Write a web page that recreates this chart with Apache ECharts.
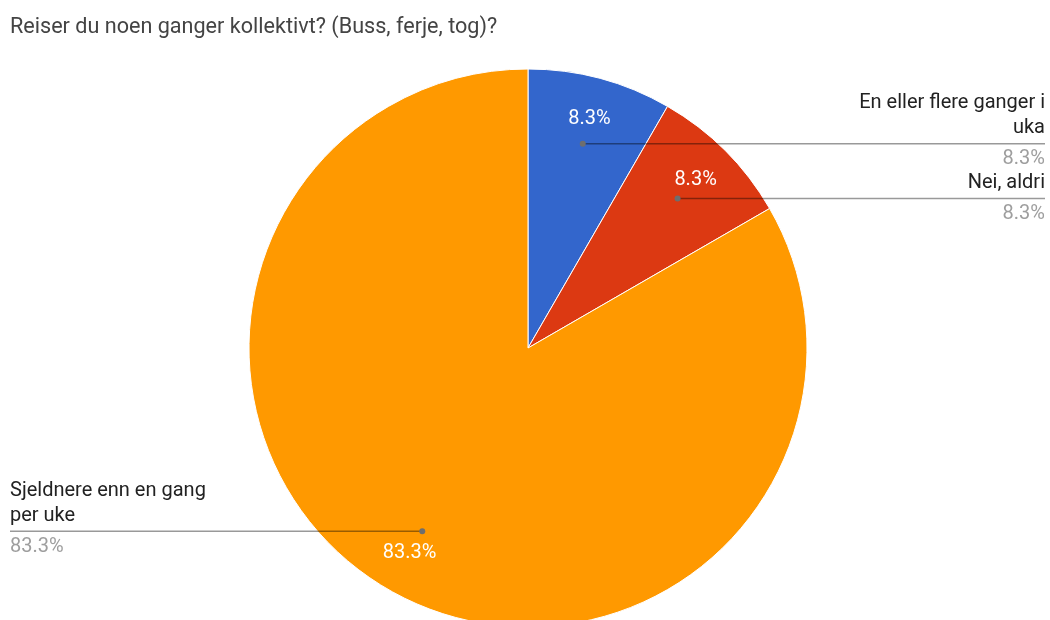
<!DOCTYPE html>
<html>
<head>
<meta charset="utf-8">
<title>Reiser du noen ganger kollektivt?</title>
<script src="https://cdn.jsdelivr.net/npm/echarts@6/dist/echarts.min.js"></script>
<style>
  html, body { margin: 0; padding: 0; background: #ffffff; }
  #chart { width: 1050px; height: 620px; }
</style>
</head>
<body>
<div id="chart"></div>
<script>
// Survey answers and how many respondents gave each one
const chartTitle = 'Reiser du noen ganger kollektivt? (Buss, ferje, tog)?';
const categories = ['En eller flere ganger i uka', 'Nei, aldri', 'Sjeldnere enn en gang per uke'];
const counts = [1, 1, 10];
const sliceColors = ['#3366cc', '#dc3912', '#ff9900'];

const FONT = 'Roboto, "Noto Sans", Arial, sans-serif';
const LABEL_SIZE = 20;
const CENTER = [528, 348];
const RADIUS = 279;
const total = counts.reduce((a, b) => a + b, 0);
const pctText = v => (v / total * 100).toFixed(1) + '%';

// Word-wrap a category name so each line stays within maxWidth pixels
const measureCtx = document.createElement('canvas').getContext('2d');
measureCtx.font = LABEL_SIZE + 'px ' + FONT;
function wrapName(text, maxWidth) {
  const words = text.split(' ');
  const lines = [];
  let line = '';
  words.forEach(w => {
    const test = line ? line + ' ' + w : w;
    if (line && measureCtx.measureText(test).width > maxWidth) {
      lines.push(line);
      line = w;
    } else {
      line = test;
    }
  });
  if (line) lines.push(line);
  return lines.join('\n');
}

const pieData = categories.map((name, i) => ({ name: name, value: counts[i] }));
const clearData = categories.map((name, i) => ({
  name: name, value: counts[i], itemStyle: { color: 'rgba(0,0,0,0)', borderWidth: 0 }
}));

const chart = echarts.init(document.getElementById('chart'), null, { renderer: 'canvas' });

// Point where each leader line starts: the centre of the dot label of series 2
function anchorOf(idx) {
  const layout = chart.getModel().getSeriesByIndex(2).getData().getItemLayout(idx);
  const mid = (layout.startAngle + layout.endAngle) / 2;
  const rr = (layout.r + layout.r0) / 2 + 3;
  return { x: layout.cx + rr * Math.cos(mid), y: layout.cy + rr * Math.sin(mid), right: Math.cos(mid) >= 0 };
}

const PAD_L = 10, PAD_R = 1045;

const common = {
  type: 'pie',
  center: CENTER,
  startAngle: 90,
  clockwise: true,
  silent: true,
  animation: false,
  avoidLabelOverlap: false
};

chart.setOption({
  backgroundColor: '#ffffff',
  title: {
    text: chartTitle,
    left: 5,
    top: 12,
    textStyle: { fontFamily: FONT, fontSize: 21.6, fontWeight: 'normal', color: '#444444' }
  },
  color: sliceColors,
  series: [
    // filled slices
    Object.assign({}, common, {
      z: 2,
      radius: [0, RADIUS],
      data: pieData,
      itemStyle: { borderColor: '#ffffff', borderWidth: 1 },
      label: { show: false },
      labelLine: { show: false }
    }),
    // category names with leader lines
    Object.assign({}, common, {
      z: 4,
      radius: [0, RADIUS],
      data: clearData,
      label: {
        show: true,
        position: 'outside',
        formatter: p => wrapName(p.name, 205),
        color: '#222222',
        fontFamily: FONT,
        fontSize: LABEL_SIZE,
        lineHeight: 25
      },
      labelLine: { show: true, lineStyle: { color: 'rgba(0,0,0,0.4)', width: 1.5 } },
      labelLayout: function (p) {
        const a = anchorOf(p.dataIndex);
        const endX = a.right ? PAD_R : PAD_L;
        return {
          x: endX,
          y: a.y - 3,
          align: a.right ? 'right' : 'left',
          verticalAlign: 'bottom',
          labelLinePoints: [[a.x, a.y], [(a.x + endX) / 2, a.y], [endX, a.y]]
        };
      }
    }),
    // leader line dots
    Object.assign({}, common, {
      z: 5,
      radius: [138, RADIUS],
      data: clearData,
      label: {
        show: true,
        position: 'inside',
        formatter: '{d|}',
        rich: { d: { width: 6, height: 6, borderRadius: 3, backgroundColor: '#6e6e6e' } }
      },
      labelLine: { show: false }
    }),
    // percentages inside the slices
    Object.assign({}, common, {
      z: 5,
      radius: [189, RADIUS],
      data: clearData,
      label: {
        show: true,
        position: 'inside',
        formatter: p => pctText(p.value),
        color: '#ffffff',
        fontFamily: FONT,
        fontSize: LABEL_SIZE
      },
      labelLine: { show: false }
    }),
    // percentages under the leader lines
    Object.assign({}, common, {
      z: 5,
      radius: [0, RADIUS],
      data: clearData,
      label: {
        show: true,
        position: 'outside',
        formatter: p => pctText(p.value),
        color: '#9e9e9e',
        fontFamily: FONT,
        fontSize: LABEL_SIZE,
        lineHeight: 25
      },
      labelLine: { show: false },
      labelLayout: function (p) {
        const a = anchorOf(p.dataIndex);
        return {
          x: a.right ? PAD_R : PAD_L,
          y: a.y + 3,
          align: a.right ? 'right' : 'left',
          verticalAlign: 'top'
        };
      }
    })
  ]
});
</script>
</body>
</html>
